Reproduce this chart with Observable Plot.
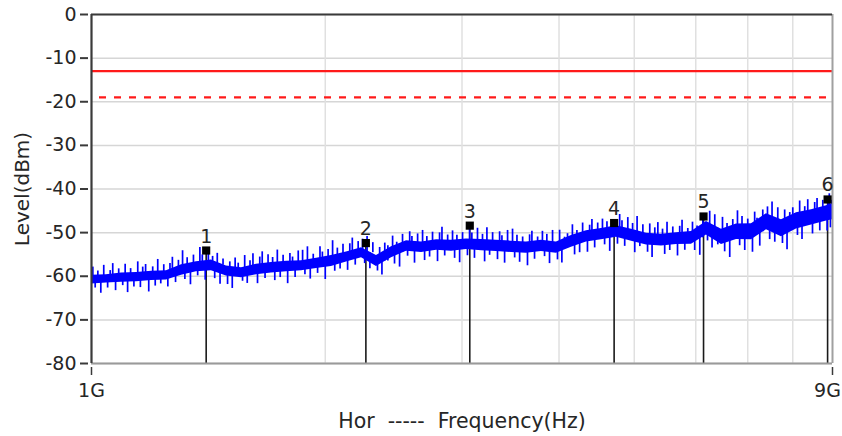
<!DOCTYPE html>
<html>
<head>
<meta charset="utf-8">
<script src="https://cdn.jsdelivr.net/npm/d3@7"></script>
<script src="https://cdn.jsdelivr.net/npm/@observablehq/plot@0.6"></script>
<style>
  html, body { margin: 0; padding: 0; background: #fff; }
  #chart svg { display: block; }
</style>
</head>
<body>
<div id="chart"></div>
<script>
// ---- data (frequencies in GHz, levels in dBm) ----
// core band of the sweep trace
const freqKnots = [1.000,1.045,1.093,1.143,1.195,1.249,1.306,1.365,1.427,1.492,1.560,1.631,1.705,1.783,1.864,1.949,2.037,2.130,2.227,2.328,2.434,2.545,2.661,2.782,2.908,3.040,3.179,3.323,3.474,3.632,3.797,3.970,4.150,4.339,4.536,4.743,4.960,5.185,5.420,5.667,5.924,6.194,6.476,6.770,7.078,7.400,7.736,8.088,8.457,8.843,9.000];
const bandLo = [-61.75,-61.55,-61.35,-61.25,-60.95,-60.85,-59.75,-58.95,-58.75,-59.95,-60.35,-59.65,-59.25,-58.95,-58.75,-58.25,-57.75,-56.75,-55.75,-57.75,-55.75,-54.25,-54.55,-54.05,-54.25,-53.85,-54.15,-54.35,-54.55,-54.75,-54.35,-54.75,-53.35,-52.15,-51.65,-51.05,-51.95,-52.85,-53.05,-52.75,-52.65,-50.55,-52.75,-51.55,-51.65,-49.35,-50.95,-49.15,-48.25,-47.35,-47.05];
const bandHi = [-59.75,-59.65,-59.25,-59.15,-58.85,-58.75,-57.35,-56.65,-56.25,-57.65,-58.05,-57.25,-56.85,-56.55,-56.45,-55.85,-55.25,-54.45,-53.45,-55.25,-53.25,-51.85,-52.15,-51.65,-51.75,-51.45,-51.55,-51.75,-51.95,-52.15,-51.75,-52.15,-50.65,-49.55,-49.05,-48.45,-49.25,-50.15,-50.35,-50.05,-49.75,-47.45,-49.25,-48.05,-47.95,-45.65,-47.05,-45.45,-44.75,-43.85,-43.35];

// noise spikes of the trace: frequency and tip level
const spikeFreq = [
1.004,1.011,1.019,1.028,1.037, 1.049,1.057,1.065,1.074,1.084, 1.097,1.105,1.113,1.123,1.134, 1.147,1.156,1.164,1.174,1.185,
1.199,1.208,1.217,1.228,1.239, 1.254,1.262,1.271,1.283,1.294, 1.310,1.319,1.328,1.341,1.353, 1.370,1.379,1.389,1.401,1.414,
1.432,1.441,1.452,1.464,1.477, 1.497,1.507,1.518,1.531,1.545, 1.565,1.575,1.587,1.600,1.614, 1.636,1.647,1.659,1.673,1.688,
1.711,1.722,1.735,1.750,1.765, 1.789,1.801,1.815,1.829,1.846, 1.870,1.883,1.897,1.913,1.930, 1.955,1.969,1.983,2.000,2.017,
2.044,2.057,2.073,2.090,2.108, 2.137,2.151,2.167,2.186,2.205, 2.234,2.248,2.264,2.283,2.303, 2.335,2.350,2.366,2.386,2.408,
2.442,2.456,2.472,2.493,2.515, 2.553,2.569,2.586,2.606,2.630, 2.669,2.685,2.703,2.725,2.749, 2.790,2.807,2.827,2.850,2.875,
2.917,2.935,2.955,2.979,3.005, 3.049,3.068,3.089,3.113,3.141, 3.188,3.208,3.230,3.256,3.285, 3.333,3.354,3.377,3.404,3.434,
3.485,3.507,3.531,3.559,3.591, 3.643,3.666,3.691,3.720,3.754, 3.808,3.832,3.858,3.889,3.924, 3.982,4.007,4.034,4.066,4.102,
4.162,4.189,4.218,4.252,4.290, 4.352,4.380,4.410,4.446,4.486, 4.550,4.579,4.611,4.649,4.691, 4.757,4.788,4.821,4.860,4.905,
4.975,5.007,5.042,5.083,5.129, 5.201,5.235,5.271,5.314,5.362, 5.437,5.472,5.510,5.555,5.605, 5.684,5.721,5.761,5.808,5.860,
5.942,5.981,6.023,6.072,6.127, 6.213,6.253,6.297,6.348,6.405, 6.495,6.537,6.583,6.636,6.696, 6.790,6.834,6.882,6.938,7.000,
7.099,7.145,7.195,7.254,7.319, 7.422,7.470,7.523,7.584,7.652, 7.759,7.810,7.865,7.929,8.000, 8.112,8.165,8.222,8.289,8.363,
8.482,8.537,8.597,8.667,8.745, 8.858,8.885,8.915,8.945,8.975];
const spikeTip = [
-57.9,-62.7,-58.8,-63.9,-57.5, -62.7,-58.7,-57.1,-63.3,-58.3, -62.15,-57.25,-63.75,-58.25,-62.45, -56.7,-62.6,-57.9,-57.3,-63.6,
-57.85,-62.25,-56.15,-61.75,-57.35, -62.45,-57.05,-55.65,-61.45,-56.35, -54.15,-60.75,-55.75,-61.95,-55.15, -59.9,-53.4,-55.1,-60.9,-53.9,
-55.45,-60.55,-54.75,-61.85,-56.05, -61.9,-56.7,-62.8,-55.8,-57.0, -61.15,-55.25,-61.65,-56.45,-54.85, -61.7,-55.6,-54.4,-60.5,-55.1,
-55.7,-61.0,-54.0,-60.3,-55.2, -61.7,-54.8,-55.6,-60.3,-54.2, -54.05,-59.65,-53.25,-60.65,-54.95, -59.35,-53.25,-54.45,-60.75,-53.85,
-51.85,-58.85,-53.55,-58.35,-52.65, -58.65,-52.55,-51.25,-57.45,-52.05, -51.5,-57.1,-50.9,-58.3,-52.3, -58.8,-53.4,-59.7,-52.4,-53.0,
-50.8,-57.2,-52.2,-57.9,-50.4, -55.4,-49.8,-50.9,-57.0,-50.3, -49.5,-56.4,-50.9,-55.6,-49.9, -56.65,-50.05,-48.75,-55.35,-50.55,
-49.6,-55.9,-50.6,-56.9,-50.0, -55.3,-48.3,-50.1,-55.9,-49.0, -50.4,-56.7,-48.9,-55.2,-50.0, -56.2,-49.8,-50.7,-57.0,-49.5,
-49.2,-55.8,-50.6,-56.8,-51.0, -57.6,-50.5,-49.7,-56.1,-51.0, -49.7,-55.5,-50.4,-57.1,-49.5, -56.25,-49.45,-56.95,-51.05,-50.25,
-48.2,-55.1,-49.5,-54.6,-47.8, -54.5,-48.3,-47.0,-53.5,-47.8, -46.9,-52.8,-47.5,-54.3,-48.0, -52.65,-45.85,-47.25,-53.15,-46.55,
-47.9,-54.6,-46.3,-53.2,-48.2, -54.5,-48.0,-55.7,-48.9,-47.7, -49.2,-55.0,-47.6,-54.1,-48.7, -55.35,-48.55,-47.15,-54.05,-49.05,
-47.6,-54.1,-48.5,-55.2,-47.0, -51.9,-45.1,-53.5,-45.9,-52.8, -46.5,-54.4,-47.9,-55.7,-47.0, -45.0,-53.0,-46.3,-54.1,-46.9,
-54.5,-45.3,-46.7,-53.1,-44.8, -44.1,-51.6,-43.0,-52.2,-44.3, -52.5,-44.8,-53.9,-45.4,-44.3, -50.65,-42.75,-51.55,-44.05,-42.45,
-50.3,-43.1,-42.2,-49.6,-42.6, -49.6,-42.0,-41.1,-48.9,-42.6];

const markerIds = ["1","2","3","4","5","6"];
const markerFreq = [1.405, 2.256, 3.07, 4.71, 6.14, 8.87];
const markerLevel = [-54.1, -52.4, -48.4, -47.8, -46.3, -42.4];

const limitSolid = -13;
const limitDashed = -19;

const yTicks = [0, -10, -20, -30, -40, -50, -60, -70, -80];
const xTickValues = [1, 9];
const xTickLabels = ["1G", "9G"];
const xGrid = [2, 3, 4, 5, 6, 7, 8];
const xDomain = [1, 9];
const yDomain = [-80, 0];
const xTitle = "Hor  -----  Frequency(Hz)";
const yTitle = "Level(dBm)";

// ---- tables built from arrays ----
const band = freqKnots.map((f, i) => ({f, lo: bandLo[i], hi: bandHi[i]}));
const spikes = spikeFreq.map((f, i) => {
  const k = Math.max(0, d3.bisectRight(freqKnots, f) - 1);
  return {f, base: (bandLo[k] + bandHi[k]) / 2, tip: spikeTip[i]};
});
const markers = markerIds.map((id, i) => ({id, f: markerFreq[i], v: markerLevel[i]}));

const textColor = "#262626";

const chart = Plot.plot({
  width: 842,
  height: 436,
  marginLeft: 91,
  marginRight: 10,
  marginTop: 14,
  marginBottom: 73,
  style: {fontFamily: "DejaVu Sans", fontSize: "19px", color: textColor, background: "#fff", overflow: "visible"},
  x: {type: "log", domain: xDomain},
  y: {domain: yDomain},
  marks: [
    // grid
    Plot.ruleY(yTicks, {stroke: "#d6d6d6", strokeWidth: 1.5}),
    Plot.ruleX(xGrid, {stroke: "#e0e0e0", strokeWidth: 1.5}),
    // limit lines
    Plot.ruleY([limitSolid], {stroke: "#ff1a1a", strokeWidth: 2.2}),
    Plot.ruleY([limitDashed], {stroke: "#ff1a1a", strokeWidth: 2.2, strokeDasharray: "7,8", strokeDashoffset: 7}),
    // marker stems
    Plot.ruleX(markers, {x: "f", y1: yDomain[0], y2: "v", stroke: "#1a1a1a", strokeWidth: 1.6}),
    // trace
    Plot.areaY(band, {x: "f", y1: "lo", y2: "hi", fill: "#0000ff", curve: "linear"}),
    Plot.ruleX(spikes, {x: "f", y1: "base", y2: "tip", stroke: "#0000ff", strokeWidth: 1.7}),
    // frame
    Plot.ruleX([xDomain[1]], {stroke: "#a0a0a0", strokeWidth: 2}),
    Plot.ruleY([yDomain[0]], {stroke: "#9a9a9a", strokeWidth: 2}),
    Plot.ruleX([xDomain[0]], {stroke: "#3a3a3a", strokeWidth: 2.2}),
    Plot.ruleY([yDomain[1]], {stroke: "#3a3a3a", strokeWidth: 2.2}),
    // markers
    Plot.dot(markers, {x: "f", y: "v", symbol: "square", r: 4.6, fill: "#000", stroke: "none"}),
    Plot.text(markers, {x: "f", y: "v", text: "id", lineAnchor: "bottom", dy: -8, fill: textColor, fontSize: 19}),
    // axes
    Plot.axisY({ticks: yTicks, tickFormat: d => String(d), tickSize: 8, tickPadding: 4, dx: -3, stroke: "#3a3a3a", strokeWidth: 2, fill: textColor, fontSize: 19, label: null}),
    Plot.axisX({ticks: xTickValues, tickFormat: null, text: null, tickSize: 8, dy: 4, stroke: "#3a3a3a", strokeWidth: 1.5, label: null}),
    Plot.text([xTickLabels[0]], {x: xTickValues[0], frameAnchor: "bottom", dy: 27, lineAnchor: "middle", textAnchor: "middle", fill: textColor, fontSize: 19}),
    Plot.text([xTickLabels[1]], {x: xTickValues[1], frameAnchor: "bottom", dy: 27, dx: -5, lineAnchor: "middle", textAnchor: "middle", fill: textColor, fontSize: 19}),
    // titles
    Plot.text([xTitle], {frameAnchor: "bottom", dy: 58, lineAnchor: "middle", textAnchor: "middle", fill: textColor, fontSize: 20.5}),
    Plot.text([yTitle], {frameAnchor: "left", dx: -69, rotate: -90, lineAnchor: "middle", textAnchor: "middle", fill: textColor, fontSize: 20})
  ]
});
document.getElementById("chart").appendChild(chart);
</script>
</body>
</html>
